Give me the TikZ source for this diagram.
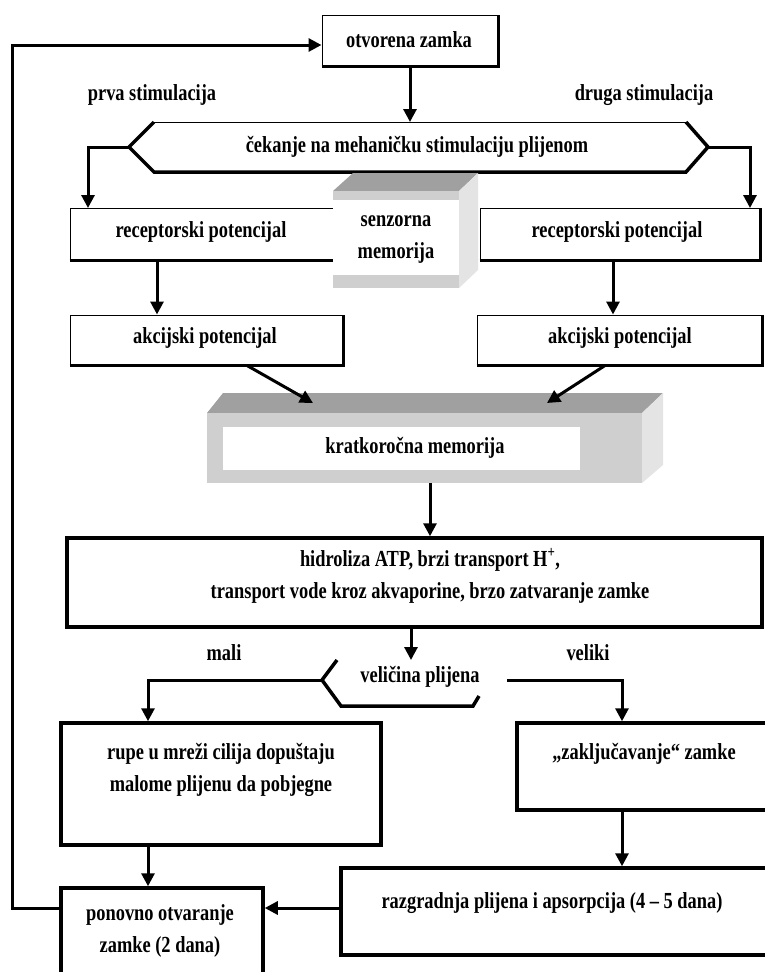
\documentclass[tikz,border=0pt]{standalone}
\usepackage{fontspec}
\setmainfont[FakeStretch=0.8]{Liberation Serif}
\usetikzlibrary{arrows.meta}

\definecolor{cubetopfill}{HTML}{A0A0A0}
\definecolor{cubebandfill}{HTML}{CFCFCF}
\definecolor{cubesidefill}{HTML}{E4E4E4}

\tikzset{
    box/.style = {
        draw,
        line width=1pt,
        fill=white,
        inner sep=0pt
    },
    heavybox/.style = {
        draw,
        line width=3.5pt,
        fill=white,
        inner sep=0pt
    },
    heavyedge/.style = {
        line width=3.5pt,
        line join=miter
    },
    flow/.style = {
        line width=3pt,
        -{Triangle[length=13pt,width=13pt]}
    },
    txt/.style = {
        font=\bfseries\fontsize{23}{32}\selectfont,
        align=center,
        inner sep=0pt
    }
}

\begin{document}
\begin{tikzpicture}[x=1pt, y=-1pt]
    \clip (0,0) rectangle (765,972);
    \fill[white] (0,0) rectangle (765,972);

    % Open trap
    \node[box, minimum width=176pt, minimum height=51pt] (otvorena) at (410,40.5) {};
    \draw[heavyedge] (otvorena.south west) -- (otvorena.south east) -- (otvorena.north east);
    \node[txt] (otvorenaT) at (409,40) {otvorena zamka};

    \node[txt] (prva) at (152,95) {prva stimulacija};
    \node[txt] (druga) at (644,95) {druga stimulacija};

    % Waiting for stimulation
    \coordinate (cekN) at (410,122);
    \coordinate (cekL) at (129,147);
    \coordinate (cekR) at (708,147);
    \draw[line width=1pt] (154,122) -- (686,122);
    \draw[heavyedge] (154,122) -- (cekL) -- (154,172) -- (686,172) -- (cekR) -- (686,122);
    \node[txt] (cekanje) at (417,147) {čekanje na mehaničku stimulaciju plijenom};
    \draw[flow] (otvorena.south) -- (cekN);

    % Receptor and action potentials
    \node[box, minimum width=268pt, minimum height=52pt] (recL) at (204,234) {};
    \node[box, minimum width=280pt, minimum height=52pt] (recR) at (620,234) {};
    \draw[heavyedge] (recL.south west) -- (recL.south east) -- (recL.north east);
    \draw[heavyedge] (recR.south west) -- (recR.south east) -- (recR.north east);
    \node[txt] (recLT) at (201,232) {receptorski potencijal};
    \node[txt] (recRT) at (617,232) {receptorski potencijal};

    \coordinate (recLin) at (88,208);
    \coordinate (recRin) at (750,208);
    \draw[flow] (cekL) -| (recLin);
    \draw[flow] (cekR) -| (recRin);

    \node[box, minimum width=273pt, minimum height=50pt] (akcL) at (206.5,340) {};
    \node[box, minimum width=285pt, minimum height=50pt] (akcR) at (619.5,340) {};
    \draw[heavyedge] (akcL.south west) -- (akcL.south east) -- (akcL.north east);
    \draw[heavyedge] (akcR.south west) -- (akcR.south east) -- (akcR.north east);
    \node[txt] (akcLT) at (205,338) {akcijski potencijal};
    \node[txt] (akcRT) at (620,338) {akcijski potencijal};

    \draw[flow] ([xshift=-47pt]recL.south) -- ([xshift=-47pt]recL.south |- akcL.north);
    \draw[flow] ([xshift=-7pt]recR.south) -- ([xshift=-7pt]recR.south |- akcR.north);

    % Sensory memory block
    \fill[cubetopfill] (333,191) -- (353,173) -- (478,173) -- (459,191) -- cycle;
    \fill[cubesidefill] (459,191) -- (478,173) -- (478,270) -- (459,288) -- cycle;
    \node[fill=cubebandfill, inner sep=0pt, minimum width=126pt, minimum height=97pt] (senzorna) at (396,239.5) {};
    \fill[white] (333,200) rectangle (459,275);
    \node[txt] (senzornaT) at (396,239) {senzorna\\memorija};

    % Short-term memory block
    \fill[cubetopfill] (207,413) -- (223,393) -- (663,393) -- (642,413) -- cycle;
    \fill[cubesidefill] (642,413) -- (663,393) -- (663,465) -- (642,483) -- cycle;
    \node[fill=cubebandfill, inner sep=0pt, minimum width=435pt, minimum height=70pt] (kratko) at (424.5,448) {};
    \fill[white] (223,427) rectangle (580,470);
    \node[txt] (kratkoT) at (415,448) {kratkoročna memorija};

    \coordinate (kL) at (313,403);
    \coordinate (kR) at (547,403);
    \draw[flow] ([xshift=40.5pt]akcL.south) -- (kL);
    \draw[flow] ([xshift=-14.5pt]akcR.south) -- (kR);

    % Closing of the trap
    \node[heavybox, minimum width=695pt, minimum height=89pt] (hidroliza) at (414.5,582.5) {};
    \node[txt] (hidrolizaT) at (430,576) {hidroliza ATP, brzi transport H\textsuperscript{+},\\transport vode kroz akvaporine, brzo zatvaranje zamke};
    \draw[flow] ([xshift=5.5pt]kratko.south) -- ([xshift=5.5pt]kratko.south |- hidroliza.north);

    % Prey size
    \coordinate (velN) at (411,660);
    \coordinate (velL) at (322,680);
    \coordinate (velR) at (507,680);
    \draw[flow] (hidroliza.south -| velN) -- (velN);
    \draw[heavyedge] (337,660) -- (velL) -- (341,706) -- (473,706) -- (479,696);
    \node[txt] (velicina) at (420,677) {veličina plijena};
    \node[txt] (mali) at (224,653) {mali};
    \node[txt] (veliki) at (588,653) {veliki};

    % Small prey / large prey
    \node[heavybox, minimum width=320pt, minimum height=122pt] (rupe) at (221,784) {};
    \node[txt] (rupeT) at (221,770) {rupe u mreži cilija dopuštaju\\malome plijenu da pobjegne};
    \node[heavybox, minimum width=260pt, minimum height=87pt] (zakl) at (647,766.5) {};
    \node[txt] (zaklT) at (644,754) {„zaključavanje“ zamke};
    \draw[flow] (velL) -| ([xshift=-73pt]rupe.north);
    \draw[flow] (velR) -| ([xshift=-25pt]zakl.north);

    \node[heavybox, minimum width=439pt, minimum height=87pt] (razg) at (560.5,911.5) {};
    \node[txt] (razgT) at (552,903) {razgradnja plijena i apsorpcija (4 – 5 dana)};
    \node[heavybox, minimum width=202pt, minimum height=97pt] (ponovno) at (162,936.5) {};
    \node[txt] (ponovnoT) at (160,931) {ponovno otvaranje\\zamke (2 dana)};
    \draw[flow] ([xshift=-25pt]zakl.south) -- ([xshift=-25pt]zakl.south |- razg.north);
    \draw[flow] ([xshift=-73pt]rupe.south) -- ([xshift=-73pt]rupe.south |- ponovno.north);

    % Back to the open trap
    \coordinate (loopB) at (12,908);
    \coordinate (loopT) at (12,45);
    \draw[flow] (razg.west |- loopB) -- (ponovno.east |- loopB);
    \draw[flow] (ponovno.west |- loopB) -- (loopB) -- (loopT) -- (otvorena.west |- loopT);
\end{tikzpicture}
\end{document}
